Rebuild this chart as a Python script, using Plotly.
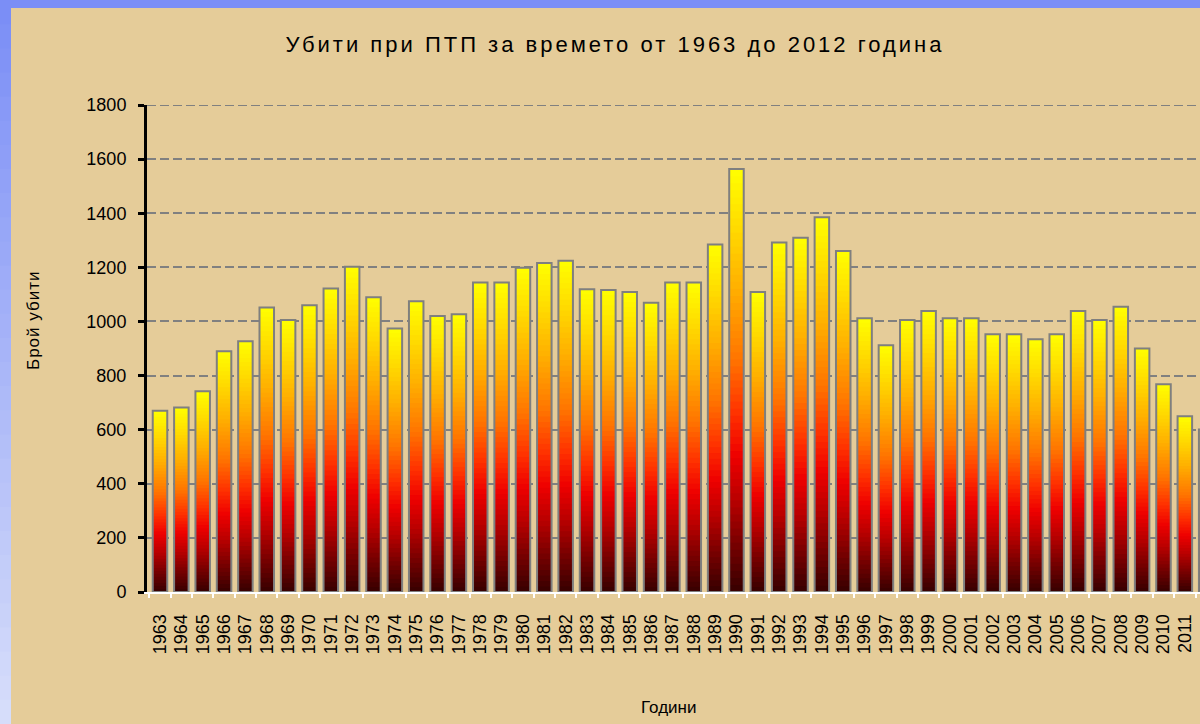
import plotly.graph_objects as go
from plotly.colors import sample_colorscale

# ---- data ----
years = [str(y) for y in range(1963, 2013)]
killed = [670, 682, 742, 890, 927, 1052, 1005, 1060, 1122, 1202,
          1089, 974, 1075, 1020, 1027, 1144, 1144, 1198, 1216, 1224,
          1119, 1116, 1109, 1069, 1144, 1144, 1284, 1563, 1109, 1292,
          1309, 1385, 1260, 1012, 912, 1005, 1039, 1012, 1012, 953,
          953, 934, 953, 1039, 1005, 1054, 900, 768, 650, 601]
y_ticks = [0, 200, 400, 600, 800, 1000, 1200, 1400, 1600, 1800]

title_text = "Убити при ПТП за времето от 1963 до 2012 година"
y_title = "Брой убити"
x_title = "Години"

# ---- style ----
W, H = 1200, 724
ML, MR, MT, MB = 147, 0, 105, 132
PW, PH = W - ML - MR, H - MT - MB
BG = "#E5CC99"
FONT = "Liberation Sans, Arial, sans-serif"
fire = [[0.00, "#360000"], [0.10, "#700000"], [0.22, "#BA0000"],
        [0.32, "#EE0000"], [0.42, "#FF3000"], [0.55, "#FF7400"],
        [0.72, "#FFB000"], [0.88, "#FFE000"], [1.00, "#FFFF00"]]
K = 60
BW = 0.68


def px2x(px):
    return (px - ML) / PW


def py2y(py):
    return (H - MB - py) / PH


fig = go.Figure()
seg_colors = sample_colorscale(fire, [(k + 0.5) / K for k in range(K)])
for k in range(K):
    h = [v / K * (1.0 if k == K - 1 else 1.6) for v in killed]
    base = [v * k / K for v in killed]
    fig.add_trace(go.Bar(x=years, y=h, base=base, width=BW,
                         marker=dict(color=seg_colors[k], line=dict(width=0)),
                         hoverinfo="skip", showlegend=False))
fig.add_trace(go.Bar(x=years, y=killed, width=BW,
                     marker=dict(color="rgba(0,0,0,0)",
                                 line=dict(color="#7F7F7F", width=2)),
                     showlegend=False))

# top gridline (at the range edge) and blue frame strips
shapes = [dict(type="line", xref="paper", yref="y", x0=0, x1=1,
               y0=y_ticks[-1], y1=y_ticks[-1],
               line=dict(color="#808080", width=2, dash="9px,4px"),
               layer="below"),
          dict(type="rect", xref="paper", yref="paper",
               x0=px2x(0), x1=px2x(W), y0=py2y(8), y1=py2y(0),
               fillcolor="#7B8EF6", line=dict(width=0), layer="above")]
NS = 30
c0, c1 = (123, 142, 246), (214, 221, 250)
for i in range(NS):
    t = i / (NS - 1)
    col = "rgb(%d,%d,%d)" % tuple(round(a + (b - a) * t) for a, b in zip(c0, c1))
    shapes.append(dict(type="rect", xref="paper", yref="paper",
                       x0=px2x(0), x1=px2x(11),
                       y0=py2y(H * (i + 1) / NS + 1), y1=py2y(H * i / NS),
                       fillcolor=col, line=dict(width=0), layer="above"))

fig.update_layout(
    width=W, height=H,
    margin=dict(l=ML, r=MR, t=MT, b=MB),
    paper_bgcolor=BG, plot_bgcolor="rgba(0,0,0,0)",
    barmode="overlay",
    font=dict(family=FONT, color="#000000", size=18),
    title=dict(text='<span style="letter-spacing:3px">' + title_text + "</span>",
               x=615 / W, xref="container", xanchor="center",
               y=1 - 44 / H, yref="container", yanchor="middle",
               font=dict(family=FONT, size=22, color="#000000")),
    xaxis=dict(type="category", range=[-0.609, 48.71],
               tickmode="array", tickvals=years, ticktext=years,
               tickangle=-90, tickfont=dict(size=18),
               showline=True, linecolor="#FFFFFF", linewidth=2,
               ticks="outside", ticklen=4, tickwidth=2, tickcolor="#FFFFFF",
               tickson="boundaries", ticklabelstandoff=13,
               showgrid=False, zeroline=False),
    yaxis=dict(range=[0, 1800], tickvals=y_ticks, tickfont=dict(size=18),
               showline=True, linecolor="#000000", linewidth=3,
               ticks="outside", ticklen=6, tickwidth=3, tickcolor="#000000",
               ticklabelstandoff=8,
               showgrid=True, gridcolor="#808080", gridwidth=2,
               griddash="9px,4px", zeroline=False),
    shapes=shapes,
    annotations=[
        dict(text='<span style="letter-spacing:1px">' + y_title + "</span>",
             xref="paper", yref="paper", x=px2x(33), y=py2y(320),
             textangle=-90, showarrow=False, xanchor="center", yanchor="middle",
             font=dict(size=17)),
        dict(text=x_title, xref="paper", yref="paper", x=px2x(668), y=py2y(707),
             showarrow=False, xanchor="center", yanchor="middle",
             font=dict(size=17)),
    ],
)

fig.write_html("out.html",
               config={"displayModeBar": False},
               post_script="document.body.style.margin='0';"
                           "document.body.style.padding='0';")
